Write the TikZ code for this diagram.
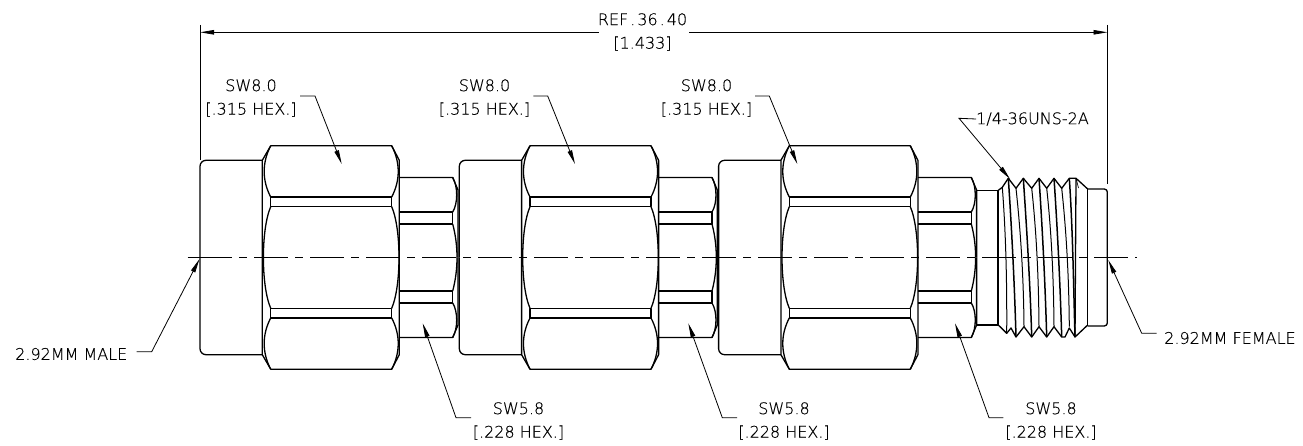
\documentclass[tikz,border=0pt]{standalone}
\usepackage{fontspec}
\usepackage{tikz}
\usetikzlibrary{arrows.meta}
\setmainfont{DejaVu Sans ExtraLight}[FakeBold=0.35]
\tikzset{
  part/.style={line width=1.3pt, line join=round},
  fine/.style={line width=0.7pt},
  leader/.style={line width=0.8pt, -{Triangle[length=14pt,width=4.5pt]}},
  dimline/.style={line width=0.8pt, -{Triangle[length=14pt,width=4.5pt]}},
  note/.style={font=\fontsize{16}{23.5}\selectfont, align=center, inner sep=0pt},
}
\begin{document}
\begin{tikzpicture}[x=1pt,y=-1pt]
  \useasboundingbox (0,0) rectangle (1303,446);

  % Three hex sections, upper and lower halves mirrored
  \foreach \s in {0,259.3,518.6} {
    \foreach \m in {1,-1} {
      \begin{scope}[shift={(\s,257.5)},yscale=\m]
        % collar
        \draw[part,rounded corners=6pt] (262.3,-97.2) -- (200,-97.2) -- (200,0);
        % large hex
        \draw[part] (262.3,0) -- (262.3,-97.2) -- (270.7,-111.7) -- (391.7,-111.7) -- (399.3,-97.2) -- (399.3,0);
        \draw[part] (270.7,-60.5) -- (391.7,-60.5) -- (391.7,-50.8) -- (270.7,-50.8) -- cycle;
        \draw[part] (270.7,-60.5) .. controls (262,-77) and (262,-95) .. (270.7,-111.7);
        \draw[part] (391.7,-60.5) .. controls (400.4,-77) and (400.4,-95) .. (391.7,-111.7);
        \draw[part] (270.7,-50.8) .. controls (265.8,-39.4) and (263.4,-19.7) .. (263.4,0);
        \draw[part] (391.7,-50.8) .. controls (396.6,-39.4) and (399,-19.7) .. (399,0);
        % small hex
        \draw[part] (399.3,-80) -- (452.7,-80) -- (458,-67.5) -- (458,0);
        \draw[part] (399.3,-45.5) -- (452.7,-45.5) -- (452.7,-33.5) -- (399.3,-33.5);
        \draw[part] (452.7,-45.5) .. controls (458,-54) and (458,-71) .. (452.7,-80);
        \draw[part] (452.7,-33.5) .. controls (455.7,-22) and (457,-11) .. (457,0);
      \end{scope}
    }
  }

  % Neck and thread
  \draw[part] (977,190.3) -- (998.3,190.3);
  \draw[part] (977,325) -- (998.3,325);
  \draw[line width=1.8pt] (998.3,190.3) -- (998.3,325);
  \draw[part] (998.3,190.3) -- (1002.3,187.3) -- (1008.3,178.3) -- (1016,188.3) -- (1023.3,178.3) -- (1031.7,188.3) -- (1039,178.3) -- (1046.7,188.3) -- (1054,178.3) -- (1061.7,188.3) -- (1069.3,178.3) -- (1076,178.3) -- (1087.7,189);
  \draw[part] (998.3,325) -- (1006.7,333.3) -- (1011,328) -- (1016,337) -- (1024,326.7) -- (1031.7,337) -- (1039,326.7) -- (1046.7,337) -- (1054,326.7) -- (1061.7,337) -- (1065,337) -- (1069.3,328) -- (1075,337) -- (1087.7,325);
  \foreach \a/\b in {1008.3/1016,1023.3/1031.7,1039/1046.7,1054/1061.7,1069.3/1075}
    \draw[line width=1.5pt] (\a,178.3) .. controls ({\a+3.5},230) and ({\b-1.5},285) .. (\b,337);
  \foreach \a/\b in {1016/1024,1031.7/1039,1046.7/1054,1061.7/1069.3}
    \draw[line width=1pt] (\a,188.3) .. controls ({\a+5},235) and ({\b-0.4},280) .. (\b,326.7);
  \draw[line width=1pt] (1002.3,187.3) .. controls (1006,235) and (1007,285) .. (1006.7,333.3);
  \draw[part] (1076,178.3) -- (1075,337);
  \draw[fine] (1076,178.3) -- (1078.5,188);

  % Female end
  \draw[part,rounded corners=3pt] (1087.7,189) -- (1107.3,189) -- (1107.3,326) -- (1087.7,326);
  \draw[line width=1.5pt] (1087.7,189) -- (1087.7,326);

  % Centre line
  \coordinate (axisleft) at (187.5,257.7);
  \coordinate (axisfirst) at (198,257.7);
  \coordinate (axisright) at (1137,257.7);
  \draw[fine] (axisleft) -- (axisfirst);
  \draw[fine,dash pattern=on 34pt off 7pt on 8pt off 7pt] (axisfirst) -- (axisright);

  % Overall length
  \node[note] (reftext) at (642.5,32) {REF\kern2pt.\kern2pt36\kern2pt.\kern2pt40\\{[1.433]}};
  \coordinate (dimleft) at (200,32.3);
  \coordinate (dimright) at (1107.5,32.3);
  \draw[fine] (200,25) -- (200,160);
  \draw[fine] (1107.5,25) -- (1107.5,184);
  \draw[dimline] (598.5,32.3) -- (dimleft);
  \draw[dimline] (689,32.3) -- (dimright);

  % Large hex labels
  \foreach \n/\tx/\ax/\bx/\cx in {a/251/300/315/341.7,b/484.5/533.3/547.7/575,c/706.5/755/769.3/797.3} {
    \node[note] (hex\n) at (\tx,98) {SW8.0\\{[.315 HEX.]}};
    \coordinate (hexknee\n) at (\bx,96);
    \coordinate (hextip\n) at (\cx,164);
    \draw[leader] (\ax,96) -- (hexknee\n) -- (hextip\n);
  }

  % Small hex labels
  \foreach \n/\tx/\ax/\bx/\cx in {a/518.5/471/456/422.7,b/784/737/722.3/688.3,c/1051/1003.3/989/955} {
    \node[note] (flat\n) at (\tx,421) {SW5.8\\{[.228 HEX.]}};
    \coordinate (flatknee\n) at (\bx,417.7);
    \coordinate (flattip\n) at (\cx,323.3);
    \draw[leader] (\ax,417.7) -- (flatknee\n) -- (flattip\n);
  }

  % Thread and connector labels
  \node[note,anchor=west] (thread) at (976,119) {1/4-36UNS-2A};
  \coordinate (threadknee) at (959,118.3);
  \coordinate (threadtip) at (1010,179);
  \draw[leader] (thread.west) -- (threadknee) -- (threadtip);

  \node[note,anchor=east] (male) at (127.5,354) {2.92MM MALE};
  \coordinate (maleknee) at (151.7,351.7);
  \coordinate (maletip) at (199.5,259);
  \draw[leader] (136.7,351.7) -- (maleknee) -- (maletip);

  \node[note,anchor=west] (female) at (1164,338) {2.92MM FEMALE};
  \coordinate (femaleknee) at (1141.7,333.3);
  \coordinate (femaletip) at (1108.3,260);
  \draw[leader] (1156.7,333.3) -- (femaleknee) -- (femaletip);
\end{tikzpicture}
\end{document}
